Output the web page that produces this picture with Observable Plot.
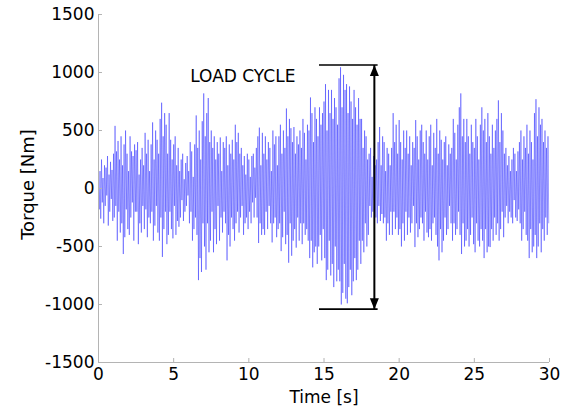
<!DOCTYPE html>
<html>
<head>
<meta charset="utf-8">
<script src="https://cdn.jsdelivr.net/npm/d3@7"></script>
<script src="https://cdn.jsdelivr.net/npm/@observablehq/plot@0.6"></script>
<style>
  html, body { margin: 0; padding: 0; background: #fff; }
</style>
</head>
<body>
<div id="chart"></div>
<script>
// Sample spacing of the torque record [s]
const timeStep = 0.05;
// Torque [Nm] (peaks/troughs), one row per half second
const torque = [
  20, -180, 150, -260, 250, -120, 90, -300, 200, -150,
  180, -60, 280, -320, 120, -200, 230, -90, 160, -280,
  300, -250, 540, -150, 320, -450, 410, -200, 250, -380,
  450, -300, 200, -565, 380, -420, 500, -180, 300, -350,
  150, -400, 450, -250, 320, -120, 280, -450, 380, -200,
  330, -200, 400, -480, 120, -300, 250, -380, 350, -150,
  200, -350, 480, -180, 300, -420, 420, -250, 150, -300,
  380, -200, 570, -450, 250, -320, 500, -150, 420, -380,
  300, -450, 600, -250, 740, -590, 450, -350, 650, -200,
  550, -480, 300, -400, 650, -200, 420, -350, 250, -430,
  380, -150, 450, -400, 200, -280, 350, -330, 150, -250,
  250, -100, 300, -280, 80, -200, 220, -150, 280, -60,
  150, -300, 400, -200, 320, -450, 100, -350, 380, -250,
  630, -400, 350, -790, 500, -600, 250, -720, 580, -300,
  820, -500, 450, -700, 650, -300, 780, -550, 400, -450,
  500, -200, 350, -550, 450, -350, 250, -480, 400, -150,
  300, -450, 440, -250, 150, -380, 400, -200, 350, -300,
  450, -620, 200, -400, 380, -500, 300, -250, 420, -350,
  250, -450, 550, -300, 400, -200, 480, -380, 300, -250,
  350, -150, 200, -400, 280, -300, 120, -250, 300, -350,
  250, -200, 100, -300, 280, -120, 300, -250, 180, -80,
  350, -250, 450, -470, 525, -300, 200, -400, 480, -350,
  300, -400, 450, -200, 250, -350, 400, -150, 350, -300,
  150, -465, 500, -300, 380, -250, 450, -420, 200, -350,
  450, -300, 550, -540, 300, -420, 500, -200, 350, -480,
  690, -400, 450, -640, 600, -300, 520, -580, 400, -450,
  530, -350, 300, -510, 450, -250, 380, -450, 500, -300,
  350, -480, 600, -300, 480, -400, 250, -350, 550, -450,
  500, -600, 785, -450, 650, -680, 400, -550, 700, -500,
  600, -650, 450, -500, 700, -400, 550, -620, 650, -350,
  750, -600, 900, -790, 500, -700, 850, -450, 650, -750,
  850, -650, 600, -850, 780, -500, 700, -800, 550, -700,
  950, -800, 1045, -1000, 700, -900, 980, -650, 850, -950,
  900, -990, 650, -850, 880, -700, 750, -920, 600, -800,
  850, -600, 700, -790, 550, -700, 780, -450, 600, -650,
  600, -450, 350, -550, 500, -300, 450, -500, 250, -400,
  300, -150, 350, -250, 100, -200, 280, -100, 200, -250,
  250, -300, 400, -150, 530, -280, 200, -220, 450, -300,
  400, -250, 150, -450, 350, -300, 300, -400, 200, -200,
  350, -400, 650, -200, 400, -350, 550, -250, 300, -400,
  590, -350, 400, -500, 250, -300, 500, -450, 350, -200,
  500, -400, 300, -250, 450, -380, 200, -300, 400, -150,
  350, -505, 590, -300, 450, -420, 250, -350, 500, -250,
  550, -300, 400, -450, 300, -200, 500, -380, 250, -420,
  450, -350, 550, -450, 200, -300, 480, -250, 350, -400,
  600, -500, 300, -620, 500, -350, 420, -550, 250, -450,
  400, -250, 450, -400, 200, -350, 380, -150, 300, -300,
  350, -450, 600, -300, 480, -400, 250, -350, 550, -200,
  700, -400, 820, -565, 450, -300, 600, -500, 400, -450,
  600, -350, 450, -500, 300, -400, 550, -250, 400, -480,
  350, -550, 600, -300, 450, -450, 250, -500, 550, -350,
  700, -450, 500, -600, 600, -350, 400, -550, 650, -500,
  450, -505, 300, -350, 550, -450, 350, -250, 500, -400,
  600, -300, 760, -450, 400, -350, 650, -200, 500, -420,
  300, -250, 350, -150, 200, -300, 280, -200, 150, -250,
  250, -300, 350, -100, 300, -250, 150, -280, 320, -180,
  400, -300, 500, -450, 250, -350, 450, -200, 350, -400,
  550, -450, 300, -600, 500, -350, 400, -550, 250, -500,
  650, -400, 770, -600, 450, -500, 700, -300, 550, -550,
  600, -350, 400, -450, 500, -250, 350, -400, 450, -300
];

// Axis ticks
const xTicks = [0, 5, 10, 15, 20, 25, 30];
const yTicks = [-1500, -1000, -500, 0, 500, 1000, 1500];
const xDomain = [0, 30];
const yDomain = [-1500, 1500];

// Load-cycle annotation
const cycleLevels = [1065, -1040];      // top / bottom range lines [Nm]
const cycleSpan = [14.7, 18.6];         // horizontal extent of range lines [s]
const cycleArrowTime = [18.35];         // time of double arrow [s]
const cycleLabel = ["LOAD CYCLE"];
const cycleLabelPos = [6.1, 961];       // [s, Nm]

// Build tables
const samples = torque.map((v, i) => ({t: i * timeStep, v}));
const segments = samples.slice(1).map((d, i) => ({
  t1: samples[i].t, v1: samples[i].v, t2: d.t, v2: d.v
}));
const arrowLine = cycleArrowTime.map(t => ({t, top: cycleLevels[0], bottom: cycleLevels[1]}));
const headsUp = cycleArrowTime.map(t => ({t, v: cycleLevels[0]}));
const headsDown = cycleArrowTime.map(t => ({t, v: cycleLevels[1]}));
const headUp = {draw(ctx) { ctx.moveTo(0, 0); ctx.lineTo(-4.5, 11); ctx.lineTo(4.5, 11); ctx.closePath(); }};
const headDown = {draw(ctx) { ctx.moveTo(0, 0); ctx.lineTo(-4.5, -11); ctx.lineTo(4.5, -11); ctx.closePath(); }};

const axisGray = "#b4b4b4";
const font = "'DejaVu Sans', 'Liberation Sans', sans-serif";

const chart = Plot.plot({
  width: 571,
  height: 410,
  marginLeft: 98,
  marginRight: 22,
  marginTop: 14,
  marginBottom: 48,
  style: {fontFamily: font, fontSize: "17px", background: "#fff", color: "#000"},
  x: {domain: xDomain},
  y: {domain: yDomain},
  marks: [
    // signal
    Plot.link(segments, {x1: "t1", y1: "v1", x2: "t2", y2: "v2", stroke: "#0000ff", strokeOpacity: 0.37, strokeWidth: 1}),
    // axis lines and inward ticks
    Plot.ruleY([yDomain[0]], {stroke: axisGray, strokeWidth: 1}),
    Plot.ruleX([xDomain[0]], {stroke: axisGray, strokeWidth: 1}),
    Plot.ruleX(xTicks, {y1: yDomain[0], y2: yDomain[0], insetTop: -4, stroke: axisGray}),
    Plot.ruleY(yTicks, {x1: xDomain[0], x2: xDomain[0], insetRight: -4, stroke: axisGray}),
    Plot.axisX({ticks: xTicks, tickSize: 0, tickPadding: 5, tickFormat: d => String(d), label: null, fontSize: 17}),
    Plot.axisY({ticks: yTicks, tickSize: 0, tickPadding: 4, tickFormat: d => String(d), label: null, fontSize: 17}),
    Plot.text(["Time [s]"], {frameAnchor: "bottom", dy: 35, lineAnchor: "middle", textAnchor: "middle", fontSize: 17, fill: "#000"}),
    Plot.text(["Torque [Nm]"], {frameAnchor: "left", dx: -70, dy: -4, rotate: -90, lineAnchor: "middle", textAnchor: "middle", fontSize: 18, fill: "#000"}),
    // annotation
    Plot.ruleY(cycleLevels, {x1: cycleSpan[0], x2: cycleSpan[1], stroke: "#000", strokeWidth: 1.6}),
    Plot.link(arrowLine, {x1: "t", x2: "t", y1: "bottom", y2: "top", stroke: "#000", strokeWidth: 2}),
    Plot.dot(headsUp, {x: "t", y: "v", symbol: headUp, fill: "#000", stroke: "none"}),
    Plot.dot(headsDown, {x: "t", y: "v", symbol: headDown, fill: "#000", stroke: "none"}),
    Plot.text(cycleLabel, {x: cycleLabelPos[0], y: cycleLabelPos[1], textAnchor: "start", lineAnchor: "middle", fontSize: 17, fill: "#000"})
  ]
});
document.getElementById("chart").appendChild(chart);
</script>
</body>
</html>
